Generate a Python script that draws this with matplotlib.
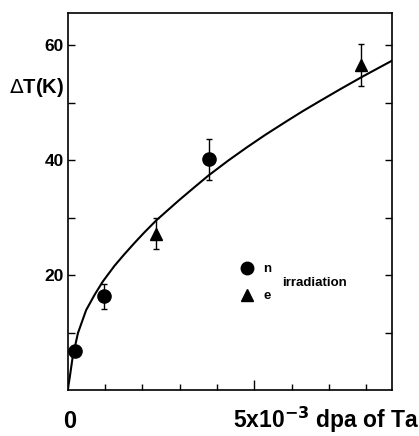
import numpy as np
import matplotlib.pyplot as plt

plt.rcParams['font.family'] = ['Liberation Sans', 'DejaVu Sans']

# measured points (dose in 1e-3 dpa, shift in K)
n_x = [0.2, 0.96, 3.79]
n_y = [6.7, 16.3, 40.1]
n_err = [0.0, 2.2, 3.6]
e_x = [2.36, 7.87]
e_y = [27.2, 56.5]
e_err = [2.7, 3.6]

# fitted curve
curve_x = [0, 0.02, 0.05, 0.13, 0.27, 0.49, 0.72, 0.94, 1.25, 1.5, 1.79, 2.05,
           2.37, 2.98, 3.4, 3.77, 4.3, 4.8, 5.3, 5.88, 6.3, 6.77, 7.3, 7.9, 8.7]
curve_y = [0, 1.0, 2.2, 5.8, 9.9, 13.9, 16.6, 18.9, 21.6, 23.5, 25.6, 27.4,
           29.5, 33.0, 35.3, 37.3, 39.9, 42.2, 44.4, 46.8, 48.5, 50.3, 52.3, 54.5, 57.3]

fig = plt.figure(figsize=(4.19, 4.36), dpi=100)
ax = fig.add_axes([0.162, 0.1055, 0.774, 0.865])

ax.plot(curve_x, curve_y, color='black', lw=1.5)
ax.errorbar(n_x, n_y, yerr=n_err, fmt='o', color='black', ms=9.5,
            capsize=2.5, elinewidth=1, capthick=1)
ax.errorbar(e_x, e_y, yerr=e_err, fmt='^', color='black', ms=9,
            capsize=2.5, elinewidth=1, capthick=1)

ax.set_xlim(0, 8.7)
ax.set_ylim(0, 65.6)

ax.set_xticks(np.arange(1, 9))
ax.set_xticklabels([])
ax.tick_params(axis='x', direction='in', length=4, width=1)
ax.set_yticks([10, 20, 30, 40, 50, 60])
ax.set_yticklabels(['', '20', '', '40', '', '60'], fontweight='bold', fontsize=12.5)
ax.tick_params(axis='y', direction='in', length=5, width=1, right=True, pad=3)
# longer tick at 5e-3
ax.xaxis.get_major_ticks()[4].tick1line.set_markersize(7)

for s in ax.spines.values():
    s.set_linewidth(1.2)

# legend drawn by hand
ax.plot([0.552], [0.324], 'o', color='black', ms=9, transform=ax.transAxes, clip_on=False)
ax.plot([0.552], [0.252], '^', color='black', ms=8, transform=ax.transAxes, clip_on=False)
ax.text(0.603, 0.322, 'n', transform=ax.transAxes, fontsize=9.5, fontweight='bold', va='center')
ax.text(0.603, 0.250, 'e', transform=ax.transAxes, fontsize=9.5, fontweight='bold', va='center')
ax.text(0.662, 0.284, 'irradiation', transform=ax.transAxes, fontsize=9.5, fontweight='bold', va='center')

fig.text(0.022, 0.80, r'$\Delta$T(K)', fontsize=14.5, fontweight='bold', va='center')
fig.text(0.167, 0.033, '0', fontsize=17, fontweight='bold', ha='center', va='center')
fig.text(0.556, 0.036, r'5x10$^{\mathbf{-3}}$ dpa of Ta', fontsize=16.5,
         fontweight='bold', va='center')

fig.savefig('out.png', dpi=100)
